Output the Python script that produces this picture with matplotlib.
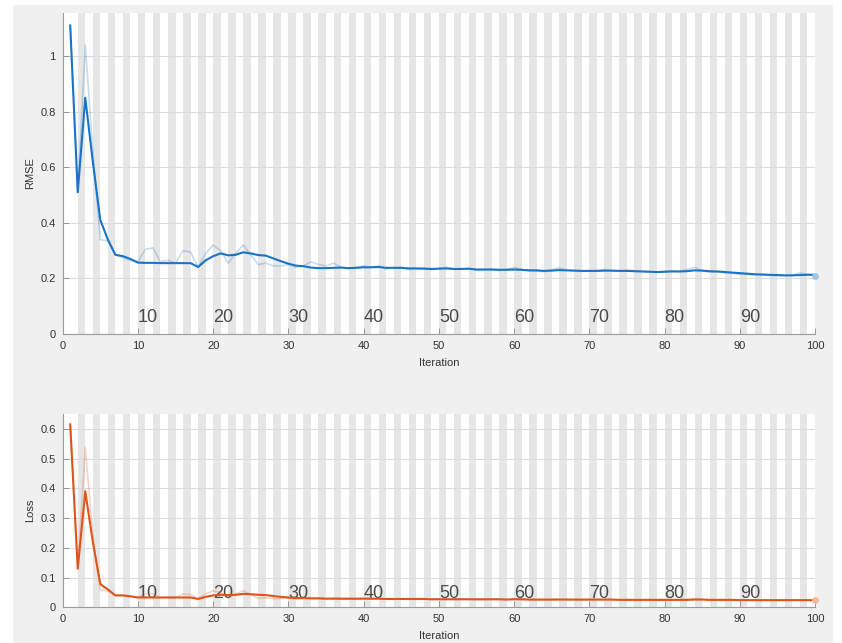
import numpy as np
import matplotlib
matplotlib.use("Agg")
import matplotlib.pyplot as plt
from matplotlib.patches import Rectangle

plt.rcParams['font.family'] = ['Liberation Sans', 'DejaVu Sans']

iterations = list(range(1, 101))

rmse_raw = [
    1.11, 0.51, 1.04, 0.66, 0.34, 0.335, 0.285, 0.275, 0.265, 0.26,
    0.305, 0.31, 0.26, 0.265, 0.255, 0.30, 0.295, 0.24, 0.29, 0.32,
    0.30, 0.255, 0.29, 0.32, 0.285, 0.25, 0.255, 0.245, 0.245, 0.25,
    0.24, 0.245, 0.26, 0.25, 0.245, 0.255, 0.24, 0.235, 0.24, 0.245,
    0.24, 0.245, 0.235, 0.238, 0.24, 0.232, 0.235, 0.238, 0.232, 0.236,
    0.24, 0.233, 0.235, 0.236, 0.23, 0.232, 0.234, 0.228, 0.232, 0.24,
    0.232, 0.228, 0.226, 0.224, 0.232, 0.238, 0.23, 0.228, 0.226, 0.227,
    0.228, 0.232, 0.228, 0.225, 0.23, 0.228, 0.225, 0.224, 0.222, 0.225,
    0.228, 0.224, 0.232, 0.24, 0.228, 0.222, 0.224, 0.22, 0.218, 0.215,
    0.214, 0.213, 0.212, 0.21, 0.21, 0.21, 0.212, 0.22, 0.215, 0.21,
]

rmse_smooth = [
    1.11, 0.51, 0.85, 0.62, 0.41, 0.34, 0.285, 0.28, 0.27, 0.257,
    0.256, 0.256, 0.255, 0.255, 0.255, 0.255, 0.255, 0.241, 0.265, 0.28,
    0.29, 0.283, 0.285, 0.294, 0.29, 0.284, 0.282, 0.272, 0.262, 0.253,
    0.246, 0.244, 0.239, 0.237, 0.237, 0.238, 0.239, 0.237, 0.238, 0.24,
    0.24, 0.241, 0.238, 0.238, 0.238, 0.236, 0.236, 0.235, 0.234, 0.235,
    0.236, 0.234, 0.234, 0.235, 0.232, 0.232, 0.232, 0.231, 0.231, 0.232,
    0.231, 0.229, 0.229, 0.227, 0.228, 0.23, 0.229, 0.228, 0.227, 0.227,
    0.227, 0.228, 0.228, 0.227, 0.227, 0.226, 0.225, 0.224, 0.223, 0.224,
    0.225, 0.225, 0.226, 0.229, 0.228, 0.226, 0.225, 0.223, 0.221, 0.219,
    0.217, 0.215, 0.214, 0.213, 0.212, 0.211, 0.211, 0.212, 0.213, 0.213,
]

loss_raw = [
    0.615, 0.13, 0.54, 0.24, 0.058, 0.055, 0.04, 0.04, 0.036, 0.033,
    0.045, 0.046, 0.032, 0.034, 0.032, 0.045, 0.043, 0.028, 0.045, 0.055,
    0.05, 0.032, 0.045, 0.055, 0.042, 0.03, 0.032, 0.029, 0.029, 0.031,
    0.028, 0.03, 0.033, 0.03, 0.029, 0.031, 0.028, 0.027, 0.028, 0.03,
    0.028, 0.029, 0.027, 0.028, 0.028, 0.027, 0.027, 0.028, 0.026, 0.027,
    0.028, 0.027, 0.027, 0.027, 0.026, 0.026, 0.027, 0.026, 0.026, 0.028,
    0.026, 0.026, 0.025, 0.025, 0.026, 0.028, 0.026, 0.026, 0.025, 0.025,
    0.026, 0.026, 0.025, 0.025, 0.026, 0.025, 0.025, 0.025, 0.024, 0.025,
    0.026, 0.025, 0.026, 0.028, 0.026, 0.025, 0.025, 0.024, 0.024, 0.024,
    0.024, 0.024, 0.023, 0.023, 0.023, 0.023, 0.024, 0.025, 0.024, 0.024,
]

loss_smooth = [
    0.615, 0.13, 0.39, 0.22, 0.078, 0.06, 0.04, 0.04, 0.037, 0.033,
    0.033, 0.033, 0.033, 0.033, 0.033, 0.033, 0.033, 0.028, 0.035, 0.04,
    0.042, 0.041, 0.042, 0.045, 0.044, 0.042, 0.041, 0.038, 0.035, 0.033,
    0.031, 0.031, 0.030, 0.030, 0.029, 0.029, 0.029, 0.029, 0.029, 0.029,
    0.029, 0.029, 0.028, 0.028, 0.028, 0.028, 0.028, 0.028, 0.027, 0.027,
    0.027, 0.027, 0.027, 0.027, 0.027, 0.027, 0.027, 0.027, 0.026, 0.027,
    0.027, 0.026, 0.026, 0.026, 0.026, 0.026, 0.026, 0.026, 0.026, 0.026,
    0.026, 0.026, 0.026, 0.025, 0.025, 0.025, 0.025, 0.025, 0.025, 0.025,
    0.025, 0.025, 0.025, 0.026, 0.026, 0.025, 0.025, 0.025, 0.025, 0.024,
    0.024, 0.024, 0.024, 0.024, 0.024, 0.024, 0.024, 0.024, 0.024, 0.024,
]

epoch_labels = [10, 20, 30, 40, 50, 60, 70, 80, 90]

W, H = 842, 643
fig = plt.figure(figsize=(W / 100, H / 100), dpi=100)
fig.patch.set_facecolor('white')
fig.add_artist(Rectangle((13 / W, 0), (833 - 13) / W, 1 - 5 / H,
                         transform=fig.transFigure, facecolor='#f0f0f0',
                         edgecolor='none', zorder=-10))

ax1 = fig.add_axes([62.7 / W, 1 - 334 / H, (815 - 62.7) / W, (334 - 13) / H])
ax2 = fig.add_axes([62.7 / W, 1 - 607.3 / H, (815 - 62.7) / W, (607.3 - 414) / H])


def style_axes(ax, ymax, yticks, ylabel, label_y):
    ax.set_facecolor('white')
    ax.set_xlim(0, 100)
    ax.set_ylim(0, ymax)
    # alternating shaded bands
    for k in range(1, 50):
        ax.axvspan(2 * k, 2 * k + 1, color='#e6e6e6', lw=0, zorder=0)
    for y in yticks[1:]:
        ax.axhline(y, color='#dcdcdc', lw=0.8, zorder=0.5)
    for lbl in epoch_labels:
        ax.text(lbl, label_y, str(lbl), fontsize=13, color='#4a4a4a',
                ha='left', va='center', zorder=1)
    ax.set_yticks(yticks)
    ax.set_yticklabels([('%g' % t) for t in yticks])
    ax.set_xticks(range(0, 101, 10))
    ax.tick_params(direction='in', length=4, width=0.6, color='#8a8a8a',
                   labelsize=8, labelcolor='#333333', pad=5)
    for s in ('top', 'right'):
        ax.spines[s].set_visible(False)
    for s in ('left', 'bottom'):
        ax.spines[s].set_color('#9a9a9a')
        ax.spines[s].set_linewidth(0.8)
    ax.set_xlabel('Iteration', fontsize=8, color='#333333', labelpad=5)
    ax.set_ylabel(ylabel, fontsize=8, color='#333333', labelpad=4)


style_axes(ax1, 1.155, [0, 0.2, 0.4, 0.6, 0.8, 1.0], 'RMSE', 0.059)
style_axes(ax2, 0.65, [0, 0.1, 0.2, 0.3, 0.4, 0.5, 0.6], 'Loss', 0.048)

blue = '#1a74c6'
orange = '#dd5518'

ax1.plot(iterations, rmse_raw, color=blue, alpha=0.25, lw=1.2, zorder=2)
ax1.plot(iterations, rmse_smooth, color=blue, lw=1.5, zorder=3)
ax1.plot(iterations[-1], rmse_raw[-1], 'o', color='#9cc8ea', ms=5,
         markeredgewidth=0, zorder=4, clip_on=False)

ax2.plot(iterations, loss_raw, color=orange, alpha=0.25, lw=1.2, zorder=2)
ax2.plot(iterations, loss_smooth, color=orange, lw=1.5, zorder=3)
ax2.plot(iterations[-1], loss_raw[-1], 'o', color='#f2bba0', ms=5,
         markeredgewidth=0, zorder=4, clip_on=False)

fig.savefig('out.png', dpi=100)
